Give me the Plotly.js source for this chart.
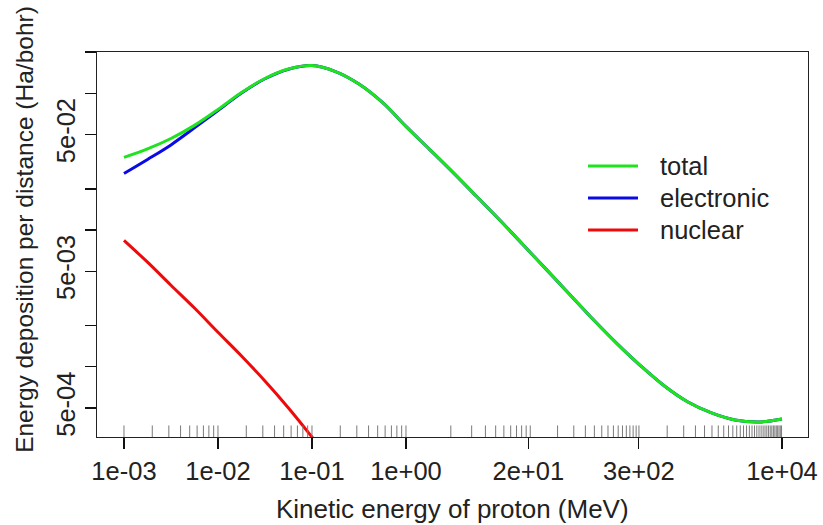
<!DOCTYPE html>
<html>
<head>
<meta charset="utf-8">
<script src="https://cdn.plot.ly/plotly-3.0.1.min.js"></script>
<style>html,body{margin:0;padding:0;background:#fff;}#chart{width:823px;height:525px;}</style>
</head>
<body>
<div id="chart"></div>
<script>
// Kinetic energy of proton (MeV)
const energy = [0.001, 0.00178, 0.00316, 0.00562, 0.01, 0.0178, 0.0316, 0.0562, 0.1, 0.178,
  0.316, 0.562, 1, 1.78, 3.16, 5.62, 10, 17.8, 31.6, 56.2,
  100, 178, 316, 562, 1000, 1780, 3160, 5620, 10000];
// Energy deposition per distance (Ha/bohr)
const total = [0.0340, 0.0392, 0.0467, 0.0582, 0.0761, 0.1013, 0.1282, 0.1503, 0.1594, 0.1441,
  0.1168, 0.0856, 0.0572, 0.0389, 0.0264, 0.01764, 0.01178, 0.00774, 0.00509, 0.00334,
  0.00219, 0.001466, 0.001013, 0.000724, 0.000553, 0.000460, 0.000409, 0.000395, 0.000416];
const electronic = [0.0259, 0.0328, 0.0419, 0.0558, 0.0748, 0.1005, 0.1276, 0.1499, 0.1592, 0.1440,
  0.1168, 0.0856, 0.0572, 0.0389, 0.0264, 0.01764, 0.01178, 0.00774, 0.00509, 0.00334,
  0.00219, 0.001466, 0.001013, 0.000724, 0.000553, 0.000460, 0.000409, 0.000395, 0.000416];
const nuclear = [0.00841, 0.00582, 0.00395, 0.00269, 0.00179, 0.00120, 0.000787, 0.000500, 0.000307, 0.000186,
  0.000112, 0.000060, 0.000030, 0.000014, 0.0000065, 0.0000030, 0.0000014, 0.00000066, 0.00000031, 0.00000015,
  0.00000007, 0.000000034, 0.000000016, 0.000000008, 0.000000004, 0.000000002, 0.000000001, 0.0000000005, 0.00000000026];
// rug: energies of the computed points
const rugEnergy = [0.001, 0.002, 0.003, 0.004, 0.005, 0.006, 0.007, 0.008, 0.009, 0.01,
  0.02, 0.03, 0.04, 0.05, 0.06, 0.07, 0.08, 0.09, 0.1,
  0.2, 0.3, 0.4, 0.5, 0.6, 0.7, 0.8, 0.9, 1,
  3, 5, 7, 9, 11, 13, 15, 17, 19, 21,
  41, 61, 81, 101, 121, 141, 161, 181, 201, 221, 241, 261, 281, 301,
  601, 901, 1201, 1501, 1801, 2101, 2401, 2701, 3001, 3301, 3601, 3901, 4201, 4501, 4801, 5101, 5401, 5701,
  6001, 6301, 6601, 6901, 7201, 7501, 7801, 8101, 8401, 8701, 9001, 9301, 9601, 9901];
const xTickVals = [0.001, 0.01, 0.1, 1, 20, 300, 10000];
const xTickText = ['1e-03', '1e-02', '1e-01', '1e+00', '2e+01', '3e+02', '1e+04'];
const yTickVals = [0.2, 0.1, 0.05, 0.02, 0.01, 0.005, 0.002, 0.001, 0.0005];
const yTickText = ['', '', '5e-02', '', '', '5e-03', '', '', '5e-04'];
const seriesNames = ['total', 'electronic', 'nuclear'];
const seriesColors = ['#1ee31e', '#0a0ae6', '#ee0a0a'];

const FONT = 'Liberation Sans, Arial, sans-serif';
const FS = 25.5;

const lineStyle = (c) => ({color: c, width: 3, shape: 'spline', smoothing: 1});
const traces = [
  {x: rugEnergy, y: rugEnergy.map(() => 0), yaxis: 'y2', type: 'scatter', mode: 'markers', cliponaxis: true,
   marker: {symbol: 'line-ns-open', size: 16.5, color: '#7a7a7a', line: {width: 1, color: '#7a7a7a'}}, hoverinfo: 'skip', showlegend: false},
  {x: energy, y: electronic, type: 'scatter', mode: 'lines', line: lineStyle(seriesColors[1]), name: seriesNames[1], showlegend: false},
  {x: energy, y: nuclear, type: 'scatter', mode: 'lines', line: lineStyle(seriesColors[2]), name: seriesNames[2], showlegend: false},
  {x: energy, y: total, type: 'scatter', mode: 'lines', line: lineStyle(seriesColors[0]), name: seriesNames[0], showlegend: false}
];

// legend drawn R-style
const legY = [0.7039, 0.6208, 0.5377];
const shapes = [];
const annotations = [];
seriesNames.forEach((n, i) => {
  shapes.push({type: 'line', xref: 'paper', yref: 'paper', x0: 0.6906, x1: 0.7609, y0: legY[i], y1: legY[i],
    line: {color: seriesColors[i], width: 3}});
  annotations.push({xref: 'paper', yref: 'paper', x: 0.789, y: legY[i], xanchor: 'left', yanchor: 'middle',
    text: n, showarrow: false, font: {family: FONT, size: FS, color: '#222'}});
});
annotations.push({xref: 'paper', yref: 'paper', x: 0.5, y: -0.187, xanchor: 'center', yanchor: 'middle',
  text: 'Kinetic energy of proton (MeV)', showarrow: false, font: {family: FONT, size: 26, color: '#222'}});
annotations.push({xref: 'paper', yref: 'paper', x: -0.103, y: 0.54, xanchor: 'center', yanchor: 'middle', textangle: -90,
  text: 'Energy deposition per distance (Ha/bohr)', showarrow: false, font: {family: FONT, size: 24.5, color: '#222'}});

const layout = {
  width: 823, height: 525,
  margin: {l: 97, r: 15, t: 52, b: 88},
  paper_bgcolor: '#fff', plot_bgcolor: '#fff',
  showlegend: false,
  font: {family: FONT, size: FS, color: '#222'},
  xaxis: {type: 'log', range: [-3.287, 4.277], tickmode: 'array', tickvals: xTickVals, ticktext: xTickText,
    ticks: 'outside', ticklen: 11, tickwidth: 1.3, tickcolor: '#111', showgrid: false, zeroline: false,
    showline: true, mirror: true, linecolor: '#222', linewidth: 1.3, tickfont: {family: FONT, size: FS, color: '#222'}},
  yaxis: {type: 'log', range: [-3.513, -0.6985], tickmode: 'array', tickvals: yTickVals, ticktext: yTickText,
    ticks: 'outside', ticklen: 11, tickwidth: 1.3, tickcolor: '#111', showgrid: false, zeroline: false, tickangle: -90,
    showline: true, mirror: true, linecolor: '#222', linewidth: 1.3, tickfont: {family: FONT, size: FS, color: '#222'}},
  yaxis2: {overlaying: 'y', range: [0, 1], visible: false, fixedrange: true},
  shapes: shapes,
  annotations: annotations
};

Plotly.newPlot('chart', traces, layout, {displayModeBar: false, staticPlot: true});
</script>
</body>
</html>
